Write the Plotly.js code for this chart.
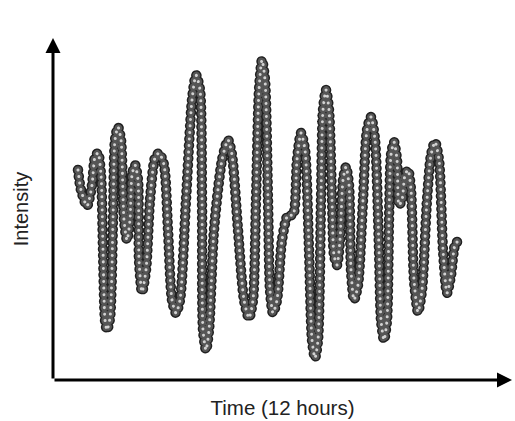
<!DOCTYPE html>
<html>
<head>
<meta charset="utf-8">
<script src="https://cdn.plot.ly/plotly-3.0.1.min.js"></script>
<style>
html,body{margin:0;padding:0;background:#fff;}
#chart .js-line{stroke-linecap:round !important;}
</style>
</head>
<body>
<div id="chart" style="width:515px;height:421px;"></div>
<script>
// Time position (left to right)
const timeX = [78,81,87,92,95,98,101,103,105,107,110,113,115,118,121,124,127,130,132,135,
  138,139,142,146,150,155,159,164,168,172,176,180,186,192,196,200,202,203,206,209,
  214,222,228,232,238,244,249,253,256,259,262,265,268,270,273,277,282,288,293,297,
  301,305,309,312,315,318,321,323,326,329,332,334,337,340,343,346,349,351,354,358,
  363,367,371,375,379,381,384,387,389,391,394,397,399,402,405,408,411,414,418,422,
  427,431,435,439,443,447,451,455,459];
// Intensity (height above the time axis)
const intensity = [210,190,174,195,223,227,205,130,60,50,62,160,240,253,240,160,140,160,205,215,
  200,120,88,110,180,222,227,215,150,80,67,80,180,280,305,290,180,50,30,50,
  150,220,240,225,150,80,62,80,180,290,320,300,180,90,67,80,140,165,165,220,
  247,230,130,40,22,40,180,270,290,270,180,125,115,140,200,213,195,110,80,95,
  180,250,263,240,130,60,40,60,160,225,238,220,175,180,205,210,190,100,68,90,
  180,225,238,220,130,87,105,135,140];

const lineBase = {shape: 'spline', smoothing: 0.7, dash: '0.01px,6.5px'};
function layer(width, color) {
  return {x: timeX, y: intensity, type: 'scatter', mode: 'lines', hoverinfo: 'skip',
    line: Object.assign({}, lineBase, {width: width, color: color})};
}
const traces = [layer(10.5, '#202020'), layer(7.5, '#555555'), layer(3, '#d2d2d2')];

const layout = {
  width: 515, height: 421,
  margin: {l: 53, r: 3, t: 38, b: 41},
  paper_bgcolor: '#fff', plot_bgcolor: '#fff',
  showlegend: false,
  font: {family: 'Liberation Sans, Arial, sans-serif', color: '#222'},
  xaxis: {range: [53, 512], showgrid: false, zeroline: false, showticklabels: false, ticks: '',
    showline: false, fixedrange: true,
    title: {text: 'Time (12 hours)', font: {size: 20.5, color: '#222'}, standoff: 20}},
  yaxis: {range: [0, 342], showgrid: false, zeroline: false, showticklabels: false, ticks: '',
    showline: false, fixedrange: true,
    title: {text: 'Intensity', font: {size: 20, color: '#222'}, standoff: 18}},
  annotations: [
    {xref: 'paper', yref: 'paper', x: 0, y: 1, ax: 0, ay: 342, axref: 'pixel', ayref: 'pixel',
     text: '', showarrow: true, arrowhead: 2, arrowsize: 1, arrowwidth: 3, arrowcolor: '#000'},
    {xref: 'paper', yref: 'paper', x: 1, y: 0, ax: -459, ay: 0,
     text: '', showarrow: true, arrowhead: 2, arrowsize: 1, arrowwidth: 3, arrowcolor: '#000'}
  ]
};
Plotly.newPlot('chart', traces, layout, {displayModeBar: false, staticPlot: true});
</script>
</body>
</html>
